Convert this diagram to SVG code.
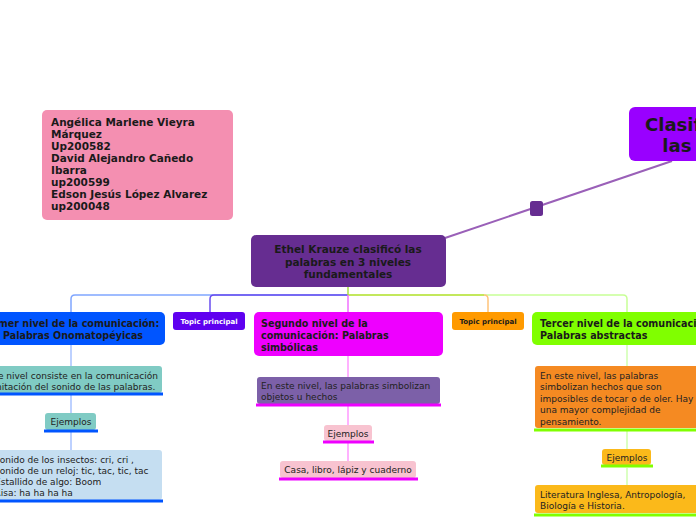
<svg xmlns="http://www.w3.org/2000/svg" width="696" height="520" viewBox="0 0 696 520">
<style>
.b{font-family:"DejaVu Sans",Verdana,sans-serif;font-weight:bold;font-size:10.5px;fill:#1a1a1a}
.b2{font-family:"DejaVu Sans",Verdana,sans-serif;font-weight:bold;font-size:9.6px;fill:#1a1a1a}
.r{font-family:"DejaVu Sans",Verdana,sans-serif;font-size:9px;fill:#222}
.t{font-family:"DejaVu Sans",Verdana,sans-serif;font-weight:bold;font-size:7px}
.c{fill:none;stroke-width:1.5}
.ul{stroke-width:3;fill:none}
</style>
<rect width="696" height="520" fill="#ffffff"/>
<g id="connectors">
<path d="M672,161 L445,238" stroke="#9a60b8" stroke-width="2" fill="none"/>
<rect x="530" y="201" width="13" height="15" rx="2.5" fill="#662d91"/>
<path class="c" d="M348,295 H75 Q71,295 71,299 V312" stroke="#80a6ff"/>
<path class="c" d="M348,295 H214 Q210,295 210,299 V312" stroke="#6a4df0"/>
<path class="c" d="M348,295 H623 Q627,295 627,299 V312" stroke="#c8ff96"/>
<path class="c" d="M348,295 H484" stroke="#bde040"/>
<path class="c" d="M484,295 Q488,295 488,299 V312" stroke="#ffc47a"/>
<path class="c" d="M348,287 V295" stroke="#a8e040"/>
<path class="c" d="M348,295 V312" stroke="#f070ff"/>
<path class="c" d="M71,345 V366 M71,395 V413 M71,432 V450" stroke="#a8c2ff"/>
<path class="c" d="M348,356 V377 M348,406 V425 M348,443 V461" stroke="#ff99ff"/>
<path class="c" d="M627,345 V366 M627,431 V449 M627,468 V485" stroke="#d0ffb0"/>
</g>
<g id="main-title">
<rect x="629" y="107" width="190" height="54" rx="6" fill="#9900ff"/>
<text class="b" style="font-size:18px" x="724" y="131" text-anchor="middle">Clasificación de</text>
<text class="b" style="font-size:18px" x="724" y="152" text-anchor="middle">las palabras</text>
</g>
<g id="authors">
<rect x="42" y="110" width="191" height="110" rx="5" fill="#f48fb1"/>
<text class="b" x="51" y="126">Angélica Marlene Vieyra</text>
<text class="b" x="51" y="138">Márquez</text>
<text class="b" x="51" y="150">Up200582</text>
<text class="b" x="51" y="162">David Alejandro Cañedo</text>
<text class="b" x="51" y="174">Ibarra</text>
<text class="b" x="51" y="186">up200599</text>
<text class="b" x="51" y="198">Edson Jesús López Alvarez</text>
<text class="b" x="51" y="210">up200048</text>
</g>
<g id="central">
<rect x="251" y="235" width="195" height="52" rx="5" fill="#662d91"/>
<text class="b" x="348" y="253" text-anchor="middle">Ethel Krauze clasificó las</text>
<text class="b" x="348" y="266" text-anchor="middle">palabras en 3 niveles</text>
<text class="b" x="348" y="278" text-anchor="middle">fundamentales</text>
</g>
<g id="nivel1">
<rect x="-23" y="312" width="188" height="33" rx="5" fill="#0055ff"/>
<text class="b2" x="71" y="327" text-anchor="middle">Primer nivel de la comunicación:</text>
<text class="b2" x="73" y="339" text-anchor="middle">Palabras Onomatopéyicas</text>
</g>
<g id="topic1">
<rect x="173" y="312" width="72" height="18" rx="3" fill="#5f00f0"/>
<text class="t" x="209" y="324" text-anchor="middle" fill="#ffffff">Topic principal</text>
</g>
<g id="nivel2">
<rect x="254" y="312" width="189" height="44" rx="5" fill="#ee00ff"/>
<text class="b2" x="261" y="327">Segundo nivel de la</text>
<text class="b2" x="261" y="339">comunicación: Palabras</text>
<text class="b2" x="261" y="351">simbólicas</text>
</g>
<g id="topic2">
<rect x="452" y="312" width="72" height="18" rx="3" fill="#ff9a00"/>
<text class="t" x="488" y="324" text-anchor="middle" fill="#1a1a1a">Topic principal</text>
</g>
<g id="nivel3">
<rect x="532" y="312" width="190" height="33" rx="5" fill="#80ff00"/>
<text class="b2" x="540" y="327">Tercer nivel de la comunicación:</text>
<text class="b2" x="540" y="339">Palabras abstractas</text>
</g>
<g id="desc1">
<rect x="-20" y="366" width="182" height="27" rx="3" fill="#80cbc4"/>
<line class="ul" x1="-21" y1="394" x2="163" y2="394" stroke="#0055ff"/>
<text class="r" x="-16" y="379">Este nivel consiste en la comunicación</text>
<text class="r" x="-9.5" y="390">imitación del sonido de las palabras.</text>
</g>
<g id="ejemplos1">
<rect x="45" y="413" width="51" height="17" rx="3" fill="#80cbc4"/>
<line class="ul" x1="44" y1="431" x2="98" y2="431" stroke="#0055ff"/>
<text class="r" x="71" y="425" text-anchor="middle">Ejemplos</text>
</g>
<g id="ejemplos1-texto">
<rect x="-13" y="450" width="175" height="50" rx="3" fill="#c5def1"/>
<line class="ul" x1="-14" y1="501" x2="163" y2="501" stroke="#0055ff"/>
<text class="r" x="-6" y="462.5">Sonido de los insectos: cri, cri ,</text>
<text class="r" x="-6" y="473.5">Sonido de un reloj: tic, tac, tic, tac</text>
<text class="r" x="-5" y="484.5">Estallido de algo: Boom</text>
<text class="r" x="-5.5" y="495.5">Risa: ha ha ha ha</text>
</g>
<g id="desc2">
<rect x="257" y="377" width="183" height="27" rx="3" fill="#7c60a8"/>
<line class="ul" x1="256" y1="405" x2="441" y2="405" stroke="#ee00ff"/>
<text class="r" x="261" y="389">En este nivel, las palabras simbolizan</text>
<text class="r" x="261" y="400">objetos u hechos</text>
</g>
<g id="ejemplos2">
<rect x="324" y="425" width="48" height="16" rx="3" fill="#f8c3d0"/>
<line class="ul" x1="323" y1="442" x2="374" y2="442" stroke="#ee00ff"/>
<text class="r" x="348" y="437" text-anchor="middle">Ejemplos</text>
</g>
<g id="ejemplos2-texto">
<rect x="280" y="461" width="136" height="17" rx="3" fill="#f8c3d0"/>
<line class="ul" x1="279" y1="479" x2="418" y2="479" stroke="#ee00ff"/>
<text class="r" x="348" y="473" text-anchor="middle">Casa, libro, lápiz y cuaderno</text>
</g>
<g id="desc3">
<rect x="535" y="366" width="190" height="62" rx="3" fill="#f58a22"/>
<line class="ul" x1="534" y1="430" x2="726" y2="430" stroke="#80ff00"/>
<text class="r" x="540" y="378.5">En este nivel, las palabras</text>
<text class="r" x="540" y="390">simbolizan hechos que son</text>
<text class="r" x="540" y="401.5">imposibles de tocar o de oler. Hay</text>
<text class="r" x="540" y="413">una mayor complejidad de</text>
<text class="r" x="540" y="424.5">pensamiento.</text>
</g>
<g id="ejemplos3">
<rect x="602" y="449" width="49" height="16" rx="3" fill="#fbb91a"/>
<line class="ul" x1="601" y1="466" x2="653" y2="466" stroke="#80ff00"/>
<text class="r" x="627" y="461" text-anchor="middle">Ejemplos</text>
</g>
<g id="ejemplos3-texto">
<rect x="535" y="485" width="190" height="28" rx="3" fill="#fbb91a"/>
<line class="ul" x1="534" y1="515" x2="726" y2="515" stroke="#80ff00"/>
<text class="r" x="540" y="497.5">Literatura Inglesa, Antropología,</text>
<text class="r" x="540" y="508.5">Biología e Historia.</text>
</g>
</svg>
